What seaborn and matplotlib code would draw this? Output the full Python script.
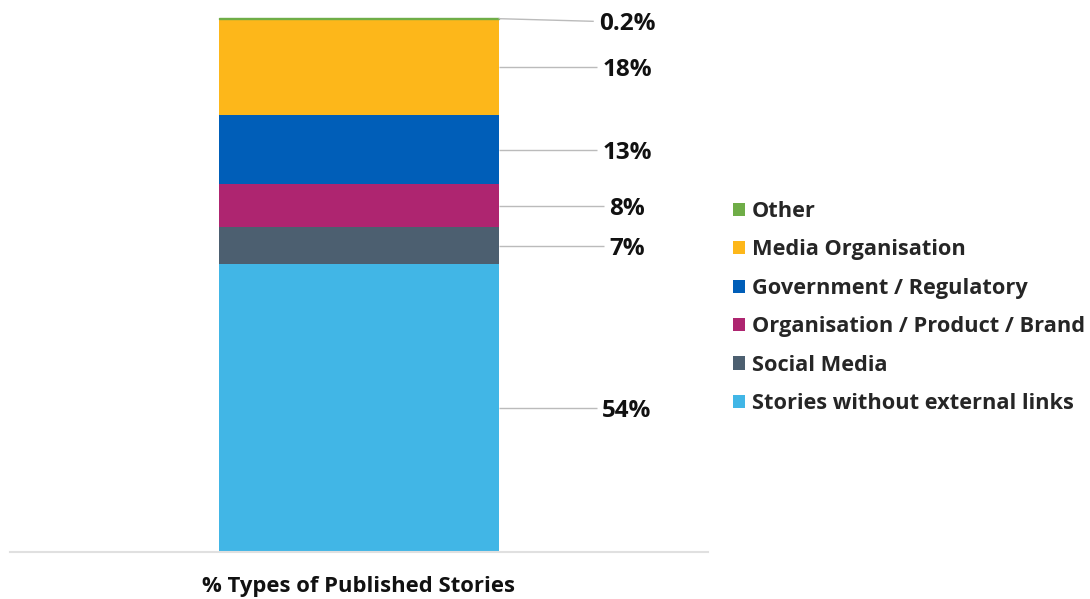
import matplotlib
matplotlib.use("Agg")
import matplotlib.pyplot as plt
from matplotlib.patches import Patch
import numpy as np
import pandas as pd
import seaborn as sns

# Link types, bottom of the stack first
categories = [
    "Stories without external links",
    "Social Media",
    "Organisation / Product / Brand",
    "Government / Regulatory",
    "Media Organisation",
    "Other",
]
values = [54, 7, 8, 13, 18, 0.2]
value_labels = ["54%", "7%", "8%", "13%", "18%", "0.2%"]
colors = ["#41b6e6", "#4c5f70", "#ae2570", "#005eb8", "#fdb71a", "#6fad47"]
bar_label = "% Types of Published Stories"

sns.set_theme(style="white")
plt.rcParams["font.family"] = ["Open Sans", "DejaVu Sans"]
plt.rcParams["font.weight"] = "bold"

fig = plt.figure(figsize=(10.9, 5.99), dpi=100)
y_top = 100.6
ax = fig.add_axes([10 / 1090, 1 - 552 / 599, 698 / 1090, 536 / 599])

tops = np.cumsum(values)
bottoms = tops - np.array(values)

# One bar per segment, then lift each onto the running total to form the stack
for i in range(len(categories)):
    df = pd.DataFrame({"series": [bar_label], "share": [values[i]]})
    thin = values[i] < 1
    sns.barplot(data=df, x="series", y="share", color=colors[i], width=0.8,
                saturation=1, ax=ax, linewidth=1.0 if thin else 0,
                edgecolor=colors[i])
    seg = ax.patches[-1]
    seg.set_y(bottoms[i])

ax.set_xlim(-1, 1)
ax.set_ylim(0, y_top)
ax.set_yticks([])
ax.set_xticks([])
ax.set_ylabel("")
ax.set_xlabel(bar_label, fontsize=15.8, fontweight="bold", color="#111111",
              labelpad=17.5)
for side in ["top", "right", "left"]:
    ax.spines[side].set_visible(False)
ax.spines["bottom"].set_color("#e0e0e0")
ax.spines["bottom"].set_linewidth(1.5)

# Value labels to the right of the bar
label_x = 0.768
texts = []
for lab, lo, hi in zip(value_labels, bottoms, tops):
    mid = (lo + hi) / 2
    ty = min(mid, tops[-1] - 0.6)
    t = ax.text(label_x, ty, lab, ha="center", va="center_baseline",
                fontsize=17.5, fontweight="bold", color="#111111")
    texts.append((t, mid, ty))

# Leader lines from the bar edge to just short of each label
fig.canvas.draw()
renderer = fig.canvas.get_renderer()
inv = ax.transData.inverted()
for t, mid, ty in texts:
    bb = t.get_window_extent(renderer)
    x_end = inv.transform((bb.x0 - 5, 0))[0]
    ax.plot([0.4, x_end], [mid, ty], color="#bbbbbb", lw=1,
            solid_capstyle="butt", clip_on=False)

handles = [Patch(facecolor=c, edgecolor="none") for c in colors[::-1]]
fig.legend(handles, categories[::-1], loc="upper left",
           bbox_to_anchor=(733 / 1090, 1 - 201 / 599), frameon=False,
           prop=dict(weight="bold", size=15.7),
           handlelength=0.55, handleheight=0.55, handletextpad=0.3,
           labelspacing=0.8, borderpad=0, borderaxespad=0)

fig.savefig("out.png", dpi=100, facecolor="white")
